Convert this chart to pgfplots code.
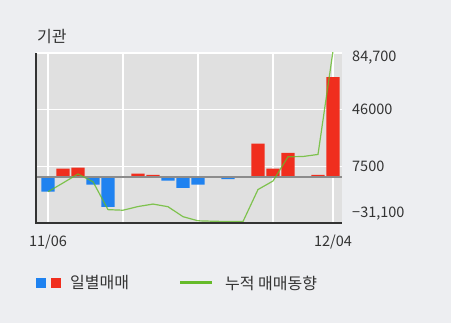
\documentclass[border=0pt]{standalone}
\usepackage{pgfplots}
\pgfplotsset{compat=1.18}
\usepackage{fontspec}
\setmainfont{Noto Sans CJK KR}
\definecolor{bgc}{HTML}{EDEEF1}
\definecolor{plotc}{HTML}{E0E0E0}
\definecolor{redc}{HTML}{F02E1E}
\definecolor{bluec}{HTML}{1F82F0}
\definecolor{greenc}{HTML}{66BB2A}
\definecolor{txtc}{HTML}{333333}
\newcommand{\fs}{\fontsize{14.5bp}{16bp}\selectfont}
\newcommand{\fk}{\fontsize{16bp}{18bp}\selectfont}
\begin{document}
\begin{tikzpicture}
\fill[bgc] (0bp,0bp) rectangle (451bp,323bp);
\begin{axis}[at={(36bp,100bp)}, anchor=south west, width=306bp, height=170bp, scale only axis,
 xmin=-0.8, xmax=19.6, ymin=-31100, ymax=84700,
 scaled y ticks=false,
 axis background/.style={fill=plotc},
 axis line style={draw=none},
 xtick={0,5,10,15,19}, xticklabels={11/06,,,,12/04},
 ytick={-31100,7500,46000,84700}, yticklabels={,7500,46000,},
 yticklabel pos=right,
 grid=major, major grid style={white, line width=1.2bp},
 major tick length=0pt,
 tick label style={font=\fs, text=txtc},
 yticklabel style={anchor=west, inner sep=0pt, xshift=10bp},
 xticklabel style={anchor=center, yshift=-19bp},
 clip=true,
]
\addplot[ybar, bar width=0.87, bar shift=0pt, fill=redc, draw=none] coordinates {(1,5950)(2,6640)(6,2520)(7,1600)(14,22900)(15,5950)(16,16700)(18,1600)(19,68200)};
\addplot[ybar, bar width=0.87, bar shift=0pt, fill=bluec, draw=none] coordinates {(0,-9800)(3,-5000)(4,-20100)(8,-2300)(9,-7100)(10,-5000)(12,-1200)};
\addplot[color=black!45, line width=2bp] coordinates {(-0.8,0)(19.6,0)};
\addplot[greenc, line width=1.2bp, opacity=0.8] coordinates {(0,-9800)(1,-3850)(2,2300)(3,-3000)(4,-22000)(5,-22400)(6,-19900)(7,-18200)(8,-20000)(9,-26800)(10,-29600)(11,-29900)(12,-30100)(13,-30100)(14,-8300)(15,-2500)(16,14000)(17,14200)(18,15600)(19,86000)};
\end{axis}
\draw[txtc, line width=2.2bp] (36bp,270bp) -- (36bp,100bp) -- (342bp,100bp);
\node[anchor=west, inner sep=0pt, font=\fs, text=txtc] at (352bp,265bp) {84,700};
\node[anchor=west, inner sep=0pt, font=\fs, text=txtc] at (352bp,109bp) {−31,100};
\node[anchor=west, inner sep=0pt, font=\fk, text=txtc] at (37bp,286bp) {기관};
\fill[bluec] (36bp,35bp) rectangle (46bp,45bp);
\fill[redc] (51bp,35bp) rectangle (61bp,45bp);
\node[anchor=west, inner sep=0pt, font=\fk, text=txtc] at (70bp,40bp) {일별매매};
\draw[greenc, line width=3bp] (180bp,40bp) -- (212bp,40bp);
\node[anchor=west, inner sep=0pt, font=\fk, text=txtc] at (225bp,40bp) {누적 매매동향};
\end{tikzpicture}
\end{document}
